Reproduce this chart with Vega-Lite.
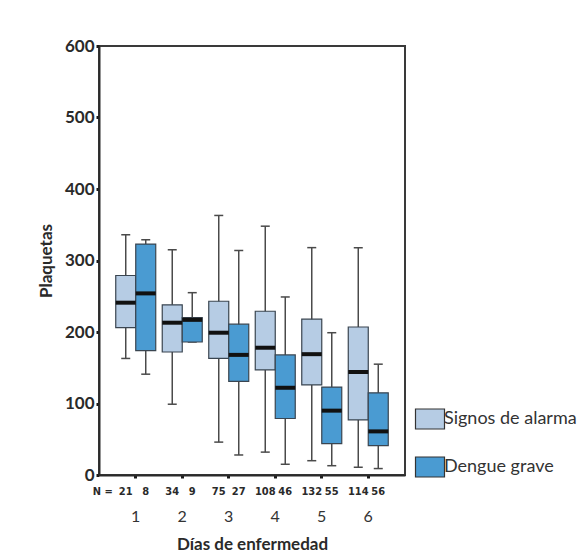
{
  "$schema": "https://vega.github.io/schema/vega-lite/v6.json",
  "width": 306,
  "height": 429,
  "autosize": {"type": "none"},
  "padding": {"left": 99, "top": 46, "right": 182, "bottom": 81},
  "background": "white",
  "config": {
    "view": {"stroke": "#3a3a3a", "strokeWidth": 2},
    "font": "Lato"
  },
  "data": {
    "values": [
      {"day": "1", "group": "Signos de alarma", "min": 163, "q1": 206, "median": 241, "q3": 279, "max": 336, "n": "21"},
      {"day": "1", "group": "Dengue grave", "min": 141, "q1": 174, "median": 254, "q3": 323, "max": 329, "n": "8"},
      {"day": "2", "group": "Signos de alarma", "min": 99, "q1": 172, "median": 213, "q3": 238, "max": 315, "n": "34"},
      {"day": "2", "group": "Dengue grave", "min": 186, "q1": 186, "median": 217, "q3": 220, "max": 255, "n": "9"},
      {"day": "3", "group": "Signos de alarma", "min": 46, "q1": 163, "median": 199, "q3": 243, "max": 363, "n": "75"},
      {"day": "3", "group": "Dengue grave", "min": 28, "q1": 131, "median": 168, "q3": 211, "max": 314, "n": "27"},
      {"day": "4", "group": "Signos de alarma", "min": 32, "q1": 147, "median": 178, "q3": 229, "max": 348, "n": "108"},
      {"day": "4", "group": "Dengue grave", "min": 15, "q1": 79, "median": 122, "q3": 168, "max": 249, "n": "46"},
      {"day": "5", "group": "Signos de alarma", "min": 20, "q1": 126, "median": 169, "q3": 218, "max": 318, "n": "132"},
      {"day": "5", "group": "Dengue grave", "min": 13, "q1": 44, "median": 90, "q3": 123, "max": 199, "n": "55"},
      {"day": "6", "group": "Signos de alarma", "min": 11, "q1": 77, "median": 144, "q3": 207, "max": 318, "n": "114"},
      {"day": "6", "group": "Dengue grave", "min": 9, "q1": 41, "median": 61, "q3": 115, "max": 155, "n": "56"}
    ]
  },
  "encoding": {
    "x": {
      "field": "day",
      "type": "nominal",
      "scale": {"paddingInner": 0.14, "paddingOuter": 0.36},
      "axis": {
        "title": "Días de enfermedad",
        "titleFont": "Lato",
        "titleFontSize": 17,
        "titleFontWeight": "bold",
        "titleColor": "#2a2a2a",
        "titlePadding": 12,
        "labelAngle": 0,
        "labelFont": "Lato",
        "labelFontSize": 16,
        "labelFontWeight": "normal",
        "labelColor": "#333333",
        "labelPadding": 30,
        "domainColor": "#2a2a2a",
        "domainWidth": 2,
        "tickColor": "#1a1a1a",
        "tickSize": 3,
        "tickWidth": 3,
        "grid": false
      }
    },
    "xOffset": {
      "field": "group",
      "type": "nominal",
      "sort": ["Signos de alarma", "Dengue grave"],
      "scale": {"paddingInner": 0, "paddingOuter": 0}
    }
  },
  "layer": [
    {
      "mark": {"type": "rule", "color": "#4a4a4a", "strokeWidth": 1.5},
      "encoding": {
        "y": {
          "field": "min",
          "type": "quantitative",
          "scale": {"domain": [0, 600], "nice": false},
          "axis": {
            "title": "Plaquetas",
            "titleFont": "Lato",
            "titleFontSize": 17,
            "titleFontWeight": "bold",
            "titleColor": "#2a2a2a",
            "titlePadding": 9,
            "values": [0, 100, 200, 300, 400, 500, 600],
            "labelFont": "Lato",
            "labelFontSize": 17,
            "labelFontWeight": "bold",
            "labelColor": "#2a2a2a",
            "labelPadding": 2,
            "domainColor": "#2a2a2a",
            "domainWidth": 2,
            "tickColor": "#1a1a1a",
            "tickSize": 3,
            "tickWidth": 3,
            "grid": false
          }
        },
        "y2": {"field": "max"}
      }
    },
    {
      "mark": {"type": "tick", "color": "#4a4a4a", "thickness": 1.5, "size": 9, "opacity": 1},
      "encoding": {"y": {"field": "max", "type": "quantitative"}}
    },
    {
      "mark": {"type": "tick", "color": "#4a4a4a", "thickness": 1.5, "size": 9, "opacity": 1},
      "encoding": {"y": {"field": "min", "type": "quantitative"}}
    },
    {
      "mark": {"type": "bar", "stroke": "#3a4550", "strokeWidth": 1.2, "opacity": 1},
      "encoding": {
        "y": {"field": "q1", "type": "quantitative"},
        "y2": {"field": "q3"},
        "color": {
          "field": "group",
          "type": "nominal",
          "sort": ["Signos de alarma", "Dengue grave"],
          "scale": {"domain": ["Signos de alarma", "Dengue grave"], "range": ["#b6cce4", "#4a9bd2"]},
          "legend": {
            "title": null,
            "orient": "none",
            "legendX": 320,
            "legendY": 362,
            "symbolType": "M-1.45,-1H1.45V1H-1.45Z",
            "symbolSize": 400,
            "symbolStrokeColor": "#333333",
            "symbolStrokeWidth": 1.2,
            "labelFont": "Lato",
            "labelFontSize": 18,
            "labelColor": "#333333",
            "labelOffset": 3,
            "rowPadding": 22,
            "symbolOpacity": 1
          }
        }
      }
    },
    {
      "mark": {"type": "tick", "color": "#111111", "thickness": 4, "size": 20, "opacity": 1},
      "encoding": {"y": {"field": "median", "type": "quantitative"}}
    },
    {
      "mark": {"type": "text", "font": "DejaVu Sans Condensed", "fontSize": 11, "fontWeight": "bold", "color": "#2a2a2a", "baseline": "middle", "dy": 17},
      "encoding": {
        "y": {"datum": 0},
        "text": {"field": "n"}
      }
    },
    {
      "data": {"values": [{"day": "1", "label": "N ="}]},
      "mark": {"type": "text", "font": "DejaVu Sans Condensed", "fontSize": 11, "fontWeight": "bold", "color": "#2a2a2a", "baseline": "middle", "dy": 17, "dx": -33},
      "encoding": {
        "xOffset": null,
        "y": {"datum": 0},
        "text": {"field": "label"}
      }
    }
  ]
}
